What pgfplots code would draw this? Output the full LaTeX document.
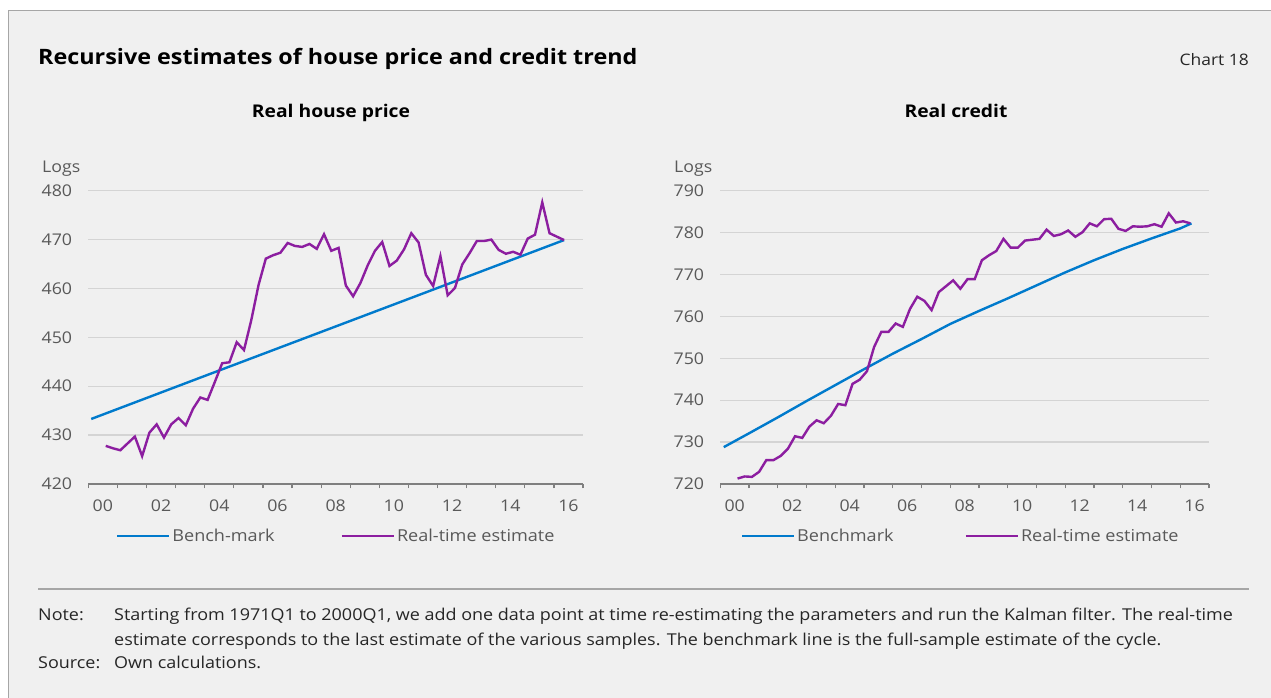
\documentclass[border=0pt]{standalone}
\usepackage{fontspec}
\setmainfont{Open Sans}[FakeStretch=1.1]
\usepackage{pgfplots}
\pgfplotsset{compat=1.18}
\definecolor{panel}{HTML}{F0F0F0}
\definecolor{bordergray}{HTML}{A6A6A6}
\definecolor{axisgray}{HTML}{7F7F7F}
\definecolor{gridgray}{HTML}{D4D4D4}
\definecolor{labelgray}{HTML}{595959}
\definecolor{notegray}{HTML}{262626}
\definecolor{seriesblue}{RGB}{0,122,204}
\definecolor{seriespurple}{RGB}{140,30,160}

\pgfplotstableread{
x y
0.6 427.8
0.85 427.3
1.1 426.9
1.35 428.3
1.6 429.7
1.85 425.7
2.1 430.5
2.35 432.2
2.6 429.5
2.85 432.2
3.1 433.5
3.35 432.0
3.6 435.4
3.85 437.7
4.1 437.2
4.35 440.9
4.6 444.7
4.85 444.9
5.1 449.0
5.35 447.4
5.6 453.5
5.85 460.7
6.1 466.1
6.35 466.8
6.6 467.3
6.85 469.3
7.1 468.7
7.35 468.5
7.6 469.1
7.85 468.1
8.1 471.1
8.35 467.7
8.6 468.3
8.85 460.6
9.1 458.4
9.35 461.1
9.6 464.7
9.85 467.7
10.1 469.5
10.35 464.6
10.6 465.7
10.85 468.0
11.1 471.3
11.35 469.4
11.6 462.8
11.85 460.5
12.1 466.6
12.35 458.6
12.6 460.1
12.85 464.9
13.1 467.2
13.35 469.7
13.6 469.7
13.85 470.0
14.1 467.9
14.35 467.1
14.6 467.5
14.85 466.9
15.1 470.2
15.35 471.0
15.6 477.6
15.85 471.3
16.1 470.6
16.35 469.9
}\houseRT

\pgfplotstableread{
x y
0.1 433.3
4 442.1
8 451.1
12 460.1
16.35 469.9
}\houseBM

\pgfplotstableread{
x y
0.6 721.3
0.85 721.8
1.1 721.7
1.35 722.9
1.6 725.7
1.85 725.7
2.1 726.7
2.35 728.4
2.6 731.4
2.85 731.0
3.1 733.7
3.35 735.2
3.6 734.5
3.85 736.3
4.1 739.1
4.35 738.8
4.6 743.9
4.85 744.9
5.1 746.9
5.35 752.7
5.6 756.3
5.85 756.3
6.1 758.3
6.35 757.5
6.6 761.8
6.85 764.7
7.1 763.7
7.35 761.5
7.6 765.8
7.85 767.2
8.1 768.6
8.35 766.6
8.6 768.9
8.85 768.9
9.1 773.4
9.35 774.6
9.6 775.6
9.85 778.5
10.1 776.4
10.35 776.4
10.6 778.1
10.85 778.3
11.1 778.5
11.35 780.7
11.6 779.2
11.85 779.6
12.1 780.5
12.35 779.0
12.6 780.1
12.85 782.2
13.1 781.5
13.35 783.2
13.6 783.3
13.85 780.9
14.1 780.4
14.35 781.5
14.6 781.4
14.85 781.5
15.1 782.0
15.35 781.4
15.6 784.6
15.85 782.4
16.1 782.7
16.35 782.2
}\creditRT

\pgfplotstableread{
x y
0.12 728.8
1 732.1
2 735.9
3 739.8
4 743.6
5 747.4
6 751.1
7 754.6
8 758.2
9 761.3
10 764.3
11 767.4
12 770.5
13 773.4
14 776.1
15 778.6
16 781.0
16.39 782.2
}\creditBM

\pgfplotsset{
  panelaxis/.style={
    scale only axis,
    xmin=0, xmax=17,
    axis x line*=bottom, axis y line*=left,
    y axis line style={draw=none},
    x axis line style={draw=axisgray, line width=1.2bp},
    xtick={0.5,2.5,4.5,6.5,8.5,10.5,12.5,14.5,16.5},
    xticklabels={00,02,04,06,08,10,12,14,16},
    minor xtick={0,1,...,17},
    major tick length=0pt, minor tick length=4.5bp, tick align=outside,
    minor tick style={draw=axisgray, line width=1.2bp},
    ymajorgrids, grid style={draw=gridgray, line width=1.3bp},
    tick label style={font=\fontsize{16.2}{19}\selectfont, text=labelgray},
    /pgf/number format/assume math mode=true,
    yticklabel style={anchor=east, inner sep=0pt, xshift=-16bp},
    xticklabel style={anchor=north, inner sep=0pt, yshift=-16bp},
    legend columns=2,
    legend style={draw=none, fill=none, inner sep=0pt, outer sep=0pt,
      font=\fontsize{16.5}{19}\selectfont, text=labelgray, anchor=west},
    legend cell align=left,
    legend image code/.code={\draw[##1] (0bp,0bp) -- (52bp,0bp);},
    every axis plot/.append style={line width=2.4bp, mark=none},
  }
}

\begin{document}
\begin{tikzpicture}[x=1bp,y=1bp]
\useasboundingbox (0,0) rectangle (1271,698);
\fill[white] (0,0) rectangle (1271,698);
\fill[panel] (8,0) rectangle (1271,688);
\draw[bordergray, line width=1.2bp] (8.5,0) -- (8.5,687.5) -- (1271,687.5);

\node[anchor=base west, inner sep=0pt, font=\fontsize{21.3}{25}\selectfont\bfseries] at (38,633) {Recursive estimates of house price and credit trend};
\node[anchor=base east, inner sep=0pt, font=\fontsize{15.9}{18}\selectfont, text=notegray] at (1249,632) {Chart 18};

\node[anchor=base, inner sep=0pt, font=\fontsize{17.6}{20}\selectfont\bfseries] at (331,580) {Real house price};
\node[anchor=base, inner sep=0pt, font=\fontsize{17.6}{20}\selectfont\bfseries] at (956,580) {Real credit};

\node[anchor=base west, inner sep=0pt, font=\fontsize{16.2}{19}\selectfont, text=labelgray] at (42,525.5) {Logs};
\node[anchor=base west, inner sep=0pt, font=\fontsize{16.2}{19}\selectfont, text=labelgray] at (674,525.5) {Logs};

\begin{axis}[panelaxis,
  at={(88.3bp,214bp)}, anchor=south west,
  width=494.7bp, height=293.3bp,
  ymin=420, ymax=480, ytick={420,430,...,480},
  legend style={at={(0.056,-0.177)},
    /tikz/every even column/.append style={column sep=64bp}}]
\addplot[seriesblue] table[x=x,y=y] {\houseBM};
\addlegendentry{Bench-mark}
\addplot[seriespurple] table[x=x,y=y] {\houseRT};
\addlegendentry{Real-time estimate}
\end{axis}

\begin{axis}[panelaxis,
  at={(720.3bp,214bp)}, anchor=south west,
  width=488.7bp, height=293.3bp,
  ymin=720, ymax=790, ytick={720,730,...,790},
  legend style={at={(0.042,-0.177)},
    /tikz/every even column/.append style={column sep=69bp}}]
\addplot[seriesblue] table[x=x,y=y] {\creditBM};
\addlegendentry{Benchmark}
\addplot[seriespurple] table[x=x,y=y] {\creditRT};
\addlegendentry{Real-time estimate}
\end{axis}

\draw[bordergray, line width=1.5bp] (38,109) -- (1249,109);

\begin{scope}[every node/.style={anchor=base west, inner sep=0pt, font=\fontsize{16.4}{19}\selectfont, text=notegray}]
\node at (38,77) {Note:};
\node at (114,77) {Starting from 1971Q1 to 2000Q1, we add one data point at time re-estimating the parameters and run the Kalman filter. The real-time};
\node at (114,52.5) {estimate corresponds to the last estimate of the various samples. The benchmark line is the full-sample estimate of the cycle.};
\node at (38,29) {Source:};
\node at (114,29) {Own calculations.};
\end{scope}
\end{tikzpicture}
\end{document}
